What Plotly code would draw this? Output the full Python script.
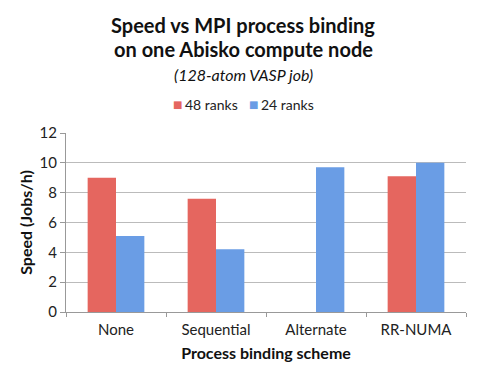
import plotly.graph_objects as go

categories = ["None", "Sequential", "Alternate", "RR-NUMA"]
ranks48 = [9.0, 7.6, None, 9.1]
ranks24 = [5.1, 4.2, 9.7, 10.0]
y_ticks = [0, 2, 4, 6, 8, 10, 12]
series_names = ["48 ranks", "24 ranks"]
series_colors = ["#E5665F", "#6A9DE5"]

FONT = "Lato"
W, H = 480, 375
L, R, T, B = 66, 14, 133, 63
PW, PH = W - L - R, H - T - B


def py(px):
    return (H - B - px) / PH


def pxx(px):
    return (px - L) / PW


fig = go.Figure()
for name, vals, col in zip(series_names, [ranks48, ranks24], series_colors):
    fig.add_bar(x=categories, y=vals, name=name,
                marker=dict(color=col, line=dict(width=0)))

TX = pxx(243)
annotations = [
    dict(text="<b>Speed vs MPI process binding</b>", x=TX, y=py(25)),
    dict(text="<b>on one Abisko compute node</b>", x=TX, y=py(49)),
    dict(text="<i>(128-atom VASP job)</i>", x=TX, y=py(74),
         font=dict(size=16, color="#111", family=FONT)),
]
for a in annotations:
    a.update(xref="paper", yref="paper", xanchor="center", yanchor="middle",
             showarrow=False)
    a.setdefault("font", dict(size=20, color="#111", family=FONT))

# legend drawn as text items
leg_x = [177, 253]
for name, col, lx in zip(series_names, series_colors, leg_x):
    annotations.append(dict(text="■", x=pxx(lx), y=py(105), xref="paper", yref="paper",
                            xanchor="center", yanchor="middle", showarrow=False,
                            font=dict(size=10, color=col, family="DejaVu Sans")))
    annotations.append(dict(text=name, x=pxx(lx + 6), y=py(105), xref="paper", yref="paper",
                            xanchor="left", yanchor="middle", showarrow=False,
                            font=dict(size=14, color="#222", family=FONT)))

fig.update_layout(
    width=W, height=H,
    margin=dict(l=L, r=R, t=T, b=B, autoexpand=False),
    paper_bgcolor="white", plot_bgcolor="white",
    font=dict(family=FONT, color="#222", size=13),
    barmode="group", bargap=0.433, bargroupgap=0,
    showlegend=False,
    xaxis=dict(
        automargin=False,
        tickson="boundaries", ticks="outside", ticklen=4, tickcolor="#999",
        ticklabelstandoff=4,
        showline=True, linecolor="#999", linewidth=1,
        tickfont=dict(size=15, color="#222"),
        title=dict(text="<b>Process binding scheme</b>", font=dict(size=16, color="#111"),
                   standoff=10),
        showgrid=False,
    ),
    yaxis=dict(
        automargin=False,
        range=[0, 12], tickvals=y_ticks, ticks="outside", ticklen=5, tickcolor="#999",
        showline=True, linecolor="#999", linewidth=1,
        showgrid=True, gridcolor="#BBBBBB", gridwidth=1,
        tickfont=dict(size=15, color="#222"),
        title=dict(text="<b>Speed (Jobs/h)</b>", font=dict(size=16, color="#111"),
                   standoff=2),
        zeroline=False,
    ),
    annotations=annotations,
)

fig.write_html("out.html", config={"displayModeBar": False},
               post_script="document.body.style.margin='0';document.body.style.padding='0';")
